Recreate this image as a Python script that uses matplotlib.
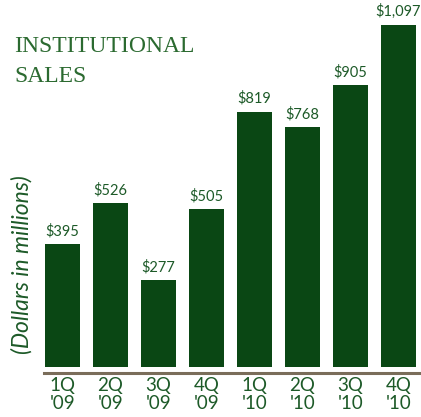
import matplotlib
matplotlib.use("Agg")
import matplotlib.pyplot as plt

quarters = ["1Q\n'09", "2Q\n'09", "3Q\n'09", "4Q\n'09",
            "1Q\n'10", "2Q\n'10", "3Q\n'10", "4Q\n'10"]
sales = [395, 526, 277, 505, 819, 768, 905, 1097]
value_labels = ["$395", "$526", "$277", "$505", "$819", "$768", "$905", "$1,097"]

bar_color = "#0a4714"
text_green = "#1d5a28"
axis_color = "#7a6d5a"

fig = plt.figure(figsize=(4.21, 4.17), dpi=100)
ax = fig.add_axes([44 / 421, 1 - 373 / 417, 376 / 421, (373 - 24) / 417])

xs = list(range(len(sales)))
ax.bar(xs, sales, width=0.73, color=bar_color, zorder=2)

for x, v, lab in zip(xs, sales, value_labels):
    ax.text(x, v + 18, lab, ha="center", va="bottom", fontsize=10.5,
            family="Lato", color=text_green)

ax.set_xlim(-0.385, 7.45)
ax.set_ylim(-20, 1100)
ax.set_xticks(xs)
ax.set_xticklabels(quarters, fontsize=13.5, family="Lato", color=text_green,
                   linespacing=1.05)
ax.tick_params(axis="x", length=0, pad=3)
ax.set_yticks([])

for side in ["top", "right", "left"]:
    ax.spines[side].set_visible(False)
ax.spines["bottom"].set_color(axis_color)
ax.spines["bottom"].set_linewidth(2.2)

fig.text(14 / 421, 1 - 36 / 417, "INSTITUTIONAL\nSALES", ha="left", va="top",
         fontsize=17, family="Liberation Serif", color="#2b6a30",
         linespacing=1.55)
fig.text(22 / 421, 1 - 265 / 417, "(Dollars in millions)", rotation=90,
         ha="center", va="center", fontsize=16.5, family="Lato",
         style="italic", color=text_green)

fig.savefig("out.png", dpi=100)
